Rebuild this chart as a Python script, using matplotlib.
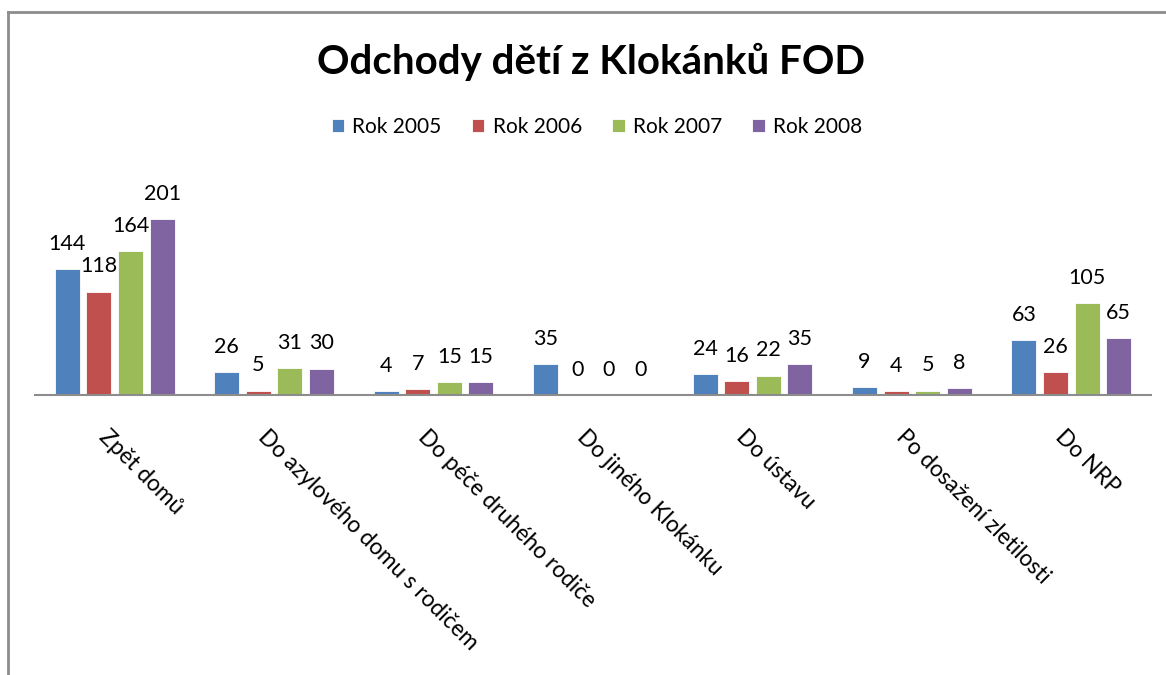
import matplotlib
matplotlib.use("Agg")
import matplotlib.pyplot as plt
from matplotlib.lines import Line2D
import numpy as np

plt.rcParams['font.family'] = ['Lato', 'DejaVu Sans']

categories = ["Zpět domů", "Do azylového domu s rodičem", "Do péče druhého rodiče",
              "Do jiného Klokánku", "Do ústavu", "Po dosažení zletilosti", "Do NRP"]
series_names = ["Rok 2005", "Rok 2006", "Rok 2007", "Rok 2008"]
rok_2005 = [144, 26, 4, 35, 24, 9, 63]
rok_2006 = [118, 5, 7, 0, 16, 4, 26]
rok_2007 = [164, 31, 15, 0, 22, 5, 105]
rok_2008 = [201, 30, 15, 0, 35, 8, 65]
title = "Odchody dětí z Klokánků FOD"

colors = ["#4F81BD", "#C0504D", "#9BBB59", "#8064A2"]
W, H = 1166, 675
fig = plt.figure(figsize=(W / 100, H / 100), dpi=100)
ax = fig.add_axes([35 / W, 280 / H, (1151 - 35) / W, 219 / H])

x = np.arange(len(categories))
step = 0.198
width = 0.157
all_series = [rok_2005, rok_2006, rok_2007, rok_2008]
for i, (vals, name, c) in enumerate(zip(all_series, series_names, colors)):
    bars = ax.bar(x + (i - 1.5) * step, vals, width, color=c, label=name,
                  edgecolor="white", linewidth=0.6)
    ax.bar_label(bars, labels=[str(v) for v in vals], padding=11, fontsize=15.5, color="#000000")

ax.set_xlim(-0.5, len(categories) - 0.5)
ax.set_ylim(0, 250)
for s in ["top", "right", "left"]:
    ax.spines[s].set_visible(False)
ax.spines["bottom"].set_color("#8c8c8c")
ax.spines["bottom"].set_linewidth(1.5)
ax.set_yticks([])
ax.set_xticks([])

for xi, cat in zip(x, categories):
    ax.annotate(cat, xy=(xi, 0), xycoords="data", xytext=(-5, -31),
                textcoords="offset pixels", ha="left", va="top", rotation=-45,
                rotation_mode="anchor", fontsize=16.3, color="#000000")

fig.text(591 / W, 1 - 62 / H, title, ha="center", va="center",
         fontsize=29, fontweight="bold", color="#000000")

fig.legend(loc="center", bbox_to_anchor=(597 / W, 1 - 127 / H), ncol=4, frameon=False,
           fontsize=15, handlelength=0.6, handleheight=0.6, handletextpad=0.4,
           columnspacing=1.45)

fig.add_artist(Line2D([8 / W, 8 / W], [0, 1 - 12 / H], color="#8c8c8c", linewidth=2,
                      transform=fig.transFigure))
fig.add_artist(Line2D([8 / W, 1], [1 - 12 / H, 1 - 12 / H], color="#8c8c8c", linewidth=2,
                      transform=fig.transFigure))

fig.savefig("out.png", dpi=100)
